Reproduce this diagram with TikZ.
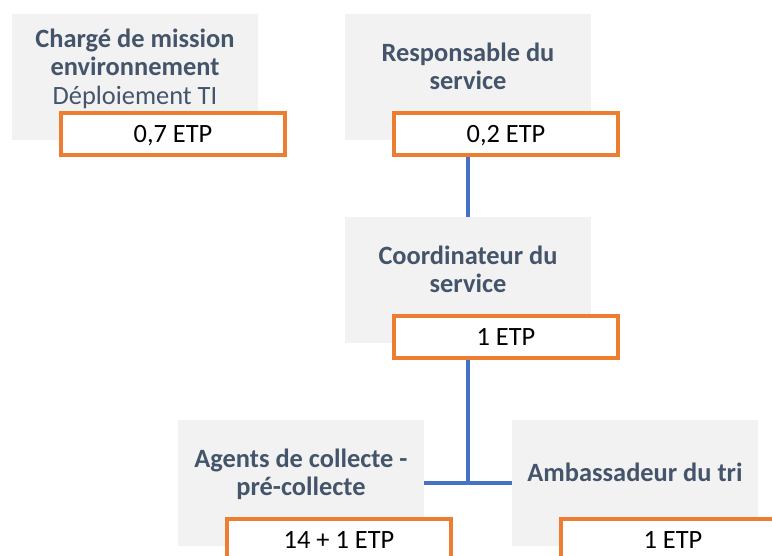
\documentclass[tikz,border=0pt]{standalone}
\usepackage{fontspec}
\setmainfont{Carlito}
\usetikzlibrary{backgrounds}
\definecolor{boxgray}{HTML}{F2F2F2}
\definecolor{titlecol}{HTML}{44546A}
\definecolor{etporange}{HTML}{ED7D31}
\definecolor{linkblue}{HTML}{4472C4}
\tikzset{
  graybox/.style={rectangle, fill=boxgray, draw=none, minimum width=246pt, minimum height=126pt, inner sep=0pt},
  titletext/.style={inner sep=0pt, align=center, text=titlecol, font=\fontsize{26.4}{28.5}\selectfont\bfseries},
  etpbox/.style={rectangle, draw=etporange, line width=4pt, fill=white, minimum width=224pt, minimum height=42pt, inner sep=0pt, text=black, font=\fontsize{26.4}{28.5}\selectfont, text height=17pt, text depth=0pt},
  link/.style={draw=linkblue, line width=3.4pt}
}
\begin{document}
\begin{tikzpicture}[x=1pt,y=-1pt]
\clip (0,0) rectangle (772,555);
% gray boxes
\node[graybox] (g1) at (135,77) {};
\node[graybox] (g2) at (468,77) {};
\node[graybox] (g3) at (468,280) {};
\node[graybox] (g4) at (301,483) {};
\node[graybox] (g5) at (635,483) {};
% titles
\node[titletext] (t1) at ([yshift=7pt]g1.center) {\strut Chargé de mission\\\strut environnement\\\mdseries\strut Déploiement TI};
\node[titletext] (t2) at ([yshift=7pt]g2.center) {\strut Responsable du\\\strut service};
\node[titletext] (t3) at ([yshift=7pt]g3.center) {\strut Coordinateur du\\\strut service};
\node[titletext] (t4) at ([yshift=7pt]g4.center) {\strut Agents de collecte -\\\strut pré-collecte};
\node[titletext] (t5) at ([yshift=7pt]g5.center) {\strut Ambassadeur du tri};
% ETP boxes
\node[etpbox] (o1) at ([shift={(38,57)}]g1.center) {0,7 ETP};
\node[etpbox] (o2) at ([shift={(38,57)}]g2.center) {0,2 ETP};
\node[etpbox] (o3) at ([shift={(38,57)}]g3.center) {1 ETP};
\node[etpbox] (o4) at ([shift={(38,57)}]g4.center) {14 + 1 ETP};
\node[etpbox] (o5) at ([shift={(38,57)}]g5.center) {1 ETP};
% connectors
\begin{scope}[on background layer]
\draw[link] (g2.south) -- (g3.north);
\coordinate (j) at (g3.south |- g4.east);
\draw[link] (g3.south) -- (j);
\draw[link] (g4.east) -- (g5.west);
\end{scope}
\end{tikzpicture}
\end{document}
